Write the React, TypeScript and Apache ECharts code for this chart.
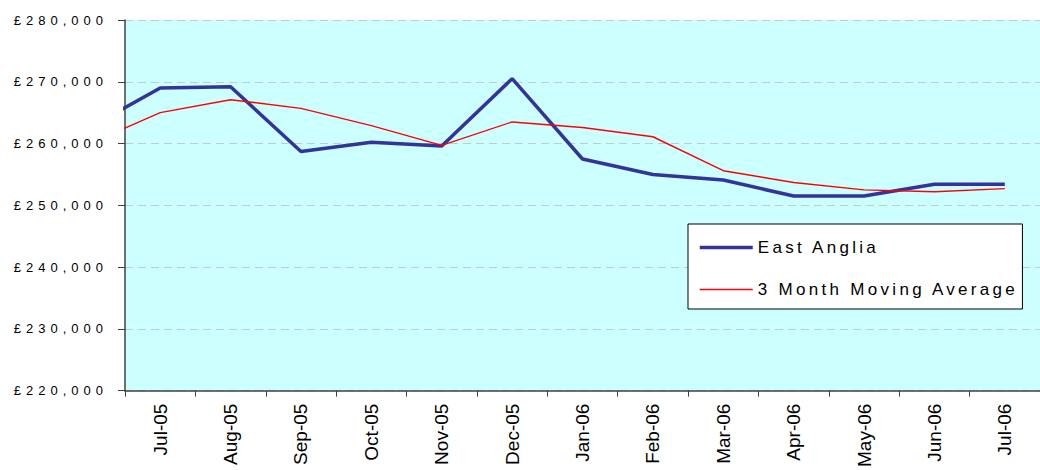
import React, { useEffect, useRef } from "react";
import * as echarts from "echarts";

// Month before the first visible category (the line enters the plot from it)
const leadMonth = "Jun-05";
const months = [
  "Jul-05", "Aug-05", "Sep-05", "Oct-05", "Nov-05", "Dec-05", "Jan-06",
  "Feb-06", "Mar-06", "Apr-06", "May-06", "Jun-06", "Jul-06",
];
// Values for leadMonth followed by months
const eastAnglia = [
  262600, 269000, 269200, 258700, 260200, 259600, 270500, 257500,
  255000, 254100, 251500, 251500, 253400, 253400,
];
const movingAverage = [
  260000, 265000, 267100, 265700, 262900, 259700, 263500, 262600,
  261100, 255600, 253700, 252500, 252200, 252700,
];
const yMin = 220000;
const yMax = 280000;
const yStep = 10000;
const seriesNames = ["East Anglia", "3 Month Moving Average"];
const seriesColors = ["#333399", "#FF0000"];
const seriesWidths = [3.5, 1.4];

const css = `
.ec-chart text[style*="13px"] { letter-spacing: 5px; }
.ec-chart text[style*="17px"] { letter-spacing: 3.3px; }
`;

const fmt = (v: number) =>
  "£" + String(v).replace(/\B(?=(\d{3})+(?!\d))/g, ",");

export default function App() {
  const ref = useRef<HTMLDivElement>(null);
  useEffect(() => {
    if (!ref.current) return;
    const chart = echarts.init(ref.current, null, { renderer: "svg" });
    const allMonths = [leadMonth, ...months];
    // x position: index in allMonths, shifted so that months[0] sits at 0
    const toPoints = (vals: number[]) =>
      vals.map((v, i) => [i - allMonths.indexOf(months[0]), v]);
    const axisColor = "#404040";
    chart.setOption({
      animation: false,
      backgroundColor: "#ffffff",
      textStyle: { fontFamily: "Liberation Sans" },
      grid: {
        left: 125,
        top: 20,
        right: -9,
        bottom: 78,
        show: true,
        backgroundColor: "#CCFFFF",
        borderWidth: 0,
      },
      xAxis: [
        {
          type: "category",
          data: months,
          boundaryGap: true,
          axisLine: { onZero: false, lineStyle: { color: axisColor, width: 1.5 } },
          axisTick: {
            show: true,
            length: 6,
            alignWithLabel: false,
            interval: 0,
            lineStyle: { color: axisColor, width: 1 },
          },
          axisLabel: {
            rotate: 90,
            fontSize: 19,
            color: "#000",
            margin: 13,
            interval: 0,
            fontFamily: "Liberation Sans",
          },
          splitLine: { show: false },
        },
        {
          type: "value",
          min: -0.5,
          max: months.length - 0.5,
          show: false,
          axisLine: { show: false, onZero: false },
          splitLine: { show: false },
        },
      ],
      yAxis: {
        type: "value",
        min: yMin,
        max: yMax,
        interval: yStep,
        axisLine: {
          show: true,
          onZero: false,
          lineStyle: { color: axisColor, width: 1.5 },
        },
        axisTick: { show: true, length: 7, lineStyle: { color: axisColor } },
        axisLabel: {
          fontSize: 13,
          color: "#000",
          margin: 17,
          formatter: (v: number) => fmt(v),
          fontFamily: "Liberation Sans",
        },
        splitLine: {
          show: true,
          lineStyle: { type: [8, 5], color: "#c2cccc", width: 1.2 },
        },
      },
      legend: {
        data: seriesNames.map((name, i) => ({
          name,
          lineStyle: { color: seriesColors[i], width: seriesWidths[i] },
        })),
        orient: "vertical",
        left: 688,
        top: 224,
        itemWidth: 53,
        itemHeight: 17,
        itemGap: 25,
        padding: [15, 76, 11, 10],
        backgroundColor: "#ffffff",
        borderColor: "#000000",
        borderWidth: 1,
        borderRadius: 0,
        itemStyle: { opacity: 0 },
        textStyle: { fontSize: 17, color: "#000", fontFamily: "Liberation Sans" },
      },
      series: seriesNames.map((name, i) => ({
        name,
        type: "line",
        xAxisIndex: 1,
        data: toPoints(i === 0 ? eastAnglia : movingAverage),
        symbol: "none",
        clip: true,
        color: seriesColors[i],
        lineStyle: { color: seriesColors[i], width: seriesWidths[i] },
      })),
    });
    return () => chart.dispose();
  }, []);
  return (
    <>
      <style>{css}</style>
      <div
        ref={ref}
        className="ec-chart"
        style={{ position: "fixed", left: 0, top: 0, width: 1040, height: 470 }}
      />
    </>
  );
}
